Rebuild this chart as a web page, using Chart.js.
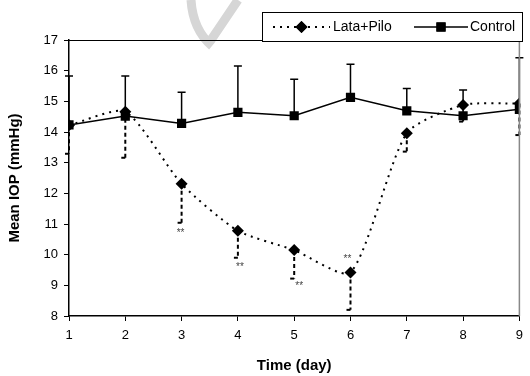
<!DOCTYPE html>
<html>
<head>
<meta charset="utf-8">
<script src="https://cdn.jsdelivr.net/npm/chart.js@4.4.0/dist/chart.umd.min.js"></script>
<style>
  html, body { margin: 0; padding: 0; background: #fff; }
  #wrap { width: 530px; height: 376px; position: relative; }
</style>
</head>
<body>
<div id="wrap"><canvas id="iopChart"></canvas></div>
<script>
// values
const days = [1, 2, 3, 4, 5, 6, 7, 8, 9];
const lataPilo = [14.22, 14.66, 12.31, 10.78, 10.15, 9.42, 13.96, 14.88, 14.93];
const lataPiloLow = [13.29, 13.16, 11.04, 9.90, 9.22, 8.20, 13.36, 14.34, 13.90];
const control = [14.23, 14.52, 14.28, 14.64, 14.53, 15.13, 14.69, 14.53, 14.74];
const controlHigh = [15.83, 15.83, 15.30, 16.15, 15.72, 16.21, 15.42, 15.37, 16.42];
const significance = ['', '', '**', '**', '**', '**', '', '', ''];
const yTicks = [8, 9, 10, 11, 12, 13, 14, 15, 16, 17];

const FONT = "'Liberation Sans', Arial, sans-serif";

// error bars: control upward (solid), lata+pilo downward (dashed)
const errorBars = {
  id: 'errorBars',
  beforeDatasetsDraw(chart) {
    const { ctx, scales: { x, y } } = chart;
    ctx.save();
    ctx.strokeStyle = '#000';
    days.forEach((d, i) => {
      const px = x.getPixelForValue(d);
      // control
      ctx.setLineDash([]);
      ctx.lineWidth = 1.5;
      ctx.beginPath();
      ctx.moveTo(px, y.getPixelForValue(control[i]));
      ctx.lineTo(px, y.getPixelForValue(controlHigh[i]));
      ctx.moveTo(px - 4, y.getPixelForValue(controlHigh[i]));
      ctx.lineTo(px + 4, y.getPixelForValue(controlHigh[i]));
      ctx.stroke();
      // lata+pilo
      ctx.setLineDash([4, 3]);
      ctx.lineWidth = 2;
      ctx.beginPath();
      ctx.moveTo(px, y.getPixelForValue(lataPilo[i]));
      ctx.lineTo(px, y.getPixelForValue(lataPiloLow[i]));
      ctx.stroke();
      ctx.setLineDash([]);
      ctx.beginPath();
      ctx.moveTo(px - 4, y.getPixelForValue(lataPiloLow[i]));
      ctx.lineTo(px, y.getPixelForValue(lataPiloLow[i]));
      ctx.stroke();
    });
    ctx.restore();
  },
  afterDatasetsDraw(chart) {
    const { ctx, scales: { x, y } } = chart;
    ctx.save();
    ctx.fillStyle = '#444';
    ctx.font = '10px ' + FONT;
    ctx.textAlign = 'center';
    ctx.textBaseline = 'middle';
    significance.forEach((s, i) => {
      if (!s) return;
      const px = x.getPixelForValue(days[i]);
      if (i === 5) {
        ctx.fillText(s, px - 3, y.getPixelForValue(lataPilo[i]) - 13);
      } else if (i === 4) {
        ctx.fillText(s, px + 5, y.getPixelForValue(lataPiloLow[i]) + 8);
      } else {
        ctx.fillText(s, px + (i === 3 ? 2 : -1), y.getPixelForValue(lataPiloLow[i]) + 10);
      }
    });
    ctx.restore();
  }
};

// frame, legend box and the faint mark at the top
const frameAndLegend = {
  id: 'frameAndLegend',
  beforeDraw(chart) {
    const ctx = chart.ctx;
    ctx.save();
    ctx.strokeStyle = '#d6d6d6';
    ctx.lineWidth = 9;
    ctx.beginPath();
    ctx.moveTo(191, 0);
    ctx.quadraticCurveTo(193, 30, 212, 46);
    ctx.moveTo(238, 0);
    ctx.lineTo(211, 40);
    ctx.stroke();
    ctx.restore();
  },
  afterDraw(chart) {
    const { ctx, chartArea: a } = chart;
    ctx.save();
    // top and right frame
    ctx.lineWidth = 1;
    ctx.strokeStyle = '#000';
    ctx.beginPath();
    ctx.moveTo(a.left, a.top + 0.5);
    ctx.lineTo(a.right, a.top + 0.5);
    ctx.stroke();
    ctx.strokeStyle = '#888';
    ctx.lineWidth = 1.5;
    ctx.beginPath();
    ctx.moveTo(a.right, a.top);
    ctx.lineTo(a.right, a.bottom);
    ctx.stroke();

    // legend
    const lx = 262, ly = 12, lw = 260, lh = 29;
    ctx.fillStyle = '#fff';
    ctx.fillRect(lx, ly, lw, lh);
    ctx.strokeStyle = '#000';
    ctx.lineWidth = 1;
    ctx.strokeRect(lx + 0.5, ly + 0.5, lw, lh);
    const cy = ly + 15;
    const sets = chart.data.datasets;
    const items = [
      { ds: sets[1], x0: 273, x1: 330, tx: 333 },
      { ds: sets[0], x0: 414, x1: 468, tx: 470 }
    ];
    items.forEach(it => {
      ctx.strokeStyle = '#000';
      ctx.lineWidth = it.ds.borderWidth;
      ctx.setLineDash(it.ds.borderDash || []);
      ctx.beginPath();
      ctx.moveTo(it.x0, cy);
      ctx.lineTo(it.x1, cy);
      ctx.stroke();
      ctx.setLineDash([]);
      ctx.fillStyle = '#000';
      Chart.helpers.drawPoint(ctx, {
        pointStyle: it.ds.pointStyle,
        radius: it.ds.pointRadius,
        borderWidth: 0
      }, (it.x0 + it.x1) / 2, cy);
      ctx.fill();
      ctx.font = '14px ' + FONT;
      ctx.textBaseline = 'middle';
      ctx.textAlign = 'left';
      ctx.fillText(it.ds.label, it.tx, cy);
    });
    ctx.restore();
  }
};

new Chart(document.getElementById('iopChart'), {
  type: 'line',
  data: {
    datasets: [
      {
        label: 'Control',
        data: days.map((d, i) => ({ x: d, y: control[i] })),
        borderColor: '#000',
        backgroundColor: '#000',
        borderWidth: 1.5,
        pointStyle: 'rect',
        pointRadius: 6.5,
        pointBorderWidth: 0,
        tension: 0,
        order: 0
      },
      {
        label: 'Lata+Pilo',
        data: days.map((d, i) => ({ x: d, y: lataPilo[i] })),
        borderColor: '#000',
        backgroundColor: '#000',
        borderWidth: 2,
        borderDash: [2, 5],
        pointStyle: 'rectRot',
        pointRadius: 6,
        pointBorderWidth: 0,
        tension: 0.22,
        order: 1
      }
    ]
  },
  options: {
    responsive: true,
    maintainAspectRatio: false,
    animation: false,
    events: [],
    layout: { padding: { top: 40, right: 7, left: 0, bottom: 0 } },
    plugins: { legend: { display: false }, tooltip: { enabled: false } },
    scales: {
      x: {
        type: 'linear',
        min: 1,
        max: 9,
        afterFit: s => { s.height = 60; },
        ticks: { stepSize: 1, color: '#000', font: { family: FONT, size: 13 }, padding: 7 },
        grid: { drawOnChartArea: false, tickLength: 5, tickColor: '#000' },
        border: { color: '#000', width: 1.5 },
        title: { display: true, text: 'Time (day)', color: '#000', font: { family: FONT, size: 15, weight: 'bold' }, padding: { top: 0, bottom: 1 } }
      },
      y: {
        min: 8,
        max: 17,
        afterFit: s => { s.width = 69; },
        afterBuildTicks: s => { s.ticks = yTicks.map(v => ({ value: v })); },
        ticks: { color: '#000', font: { family: FONT, size: 13 }, padding: 6 },
        grid: { drawOnChartArea: false, tickLength: 5, tickColor: '#000' },
        border: { color: '#000', width: 1.5 },
        title: { display: true, text: 'Mean IOP (mmHg)', color: '#000', font: { family: FONT, size: 15, weight: 'bold' }, padding: { top: 6, bottom: 0 } }
      }
    }
  },
  plugins: [errorBars, frameAndLegend]
});
</script>
</body>
</html>
